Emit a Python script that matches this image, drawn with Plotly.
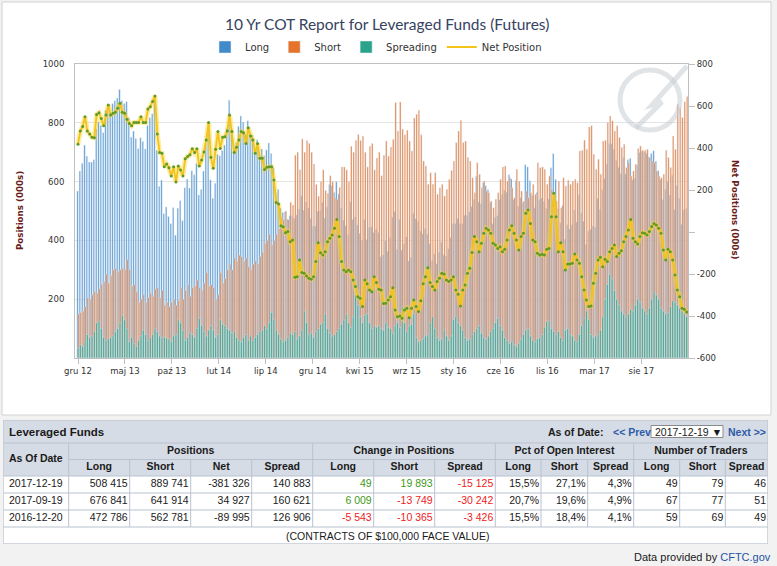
import pandas as pd
import plotly.graph_objects as go

W, H = 777, 566

# ------------ weekly COT data (000s), Dec 2012 - Dec 2017 ------------
weeks = pd.date_range('2012-12-18', periods=262, freq='7D')

long_pos = [568, 636, 662, 724, 686, 667, 666, 674, 780, 803,
            791, 766, 842, 860, 837, 865, 875, 884, 913, 875,
            865, 872, 817, 751, 772, 747, 712, 749, 736, 711,
            791, 817, 831, 883, 707, 583, 605, 491, 514, 481,
            457, 511, 418, 509, 535, 467, 579, 609, 578, 637,
            623, 662, 554, 573, 636, 728, 766, 606, 543, 594,
            693, 688, 706, 724, 781, 877, 778, 718, 733, 788,
            823, 803, 762, 807, 757, 758, 705, 742, 696, 711,
            688, 708, 731, 696, 648, 560, 573, 510, 495, 497,
            472, 484, 482, 474, 487, 507, 552, 503, 531, 510,
            475, 447, 449, 499, 501, 530, 476, 514, 590, 586,
            563, 600, 558, 509, 469, 451, 419, 531, 471, 480,
            452, 424, 400, 471, 403, 444, 446, 427, 439, 427,
            344, 350, 399, 363, 410, 479, 498, 369, 471, 367,
            388, 412, 330, 341, 492, 474, 464, 432, 423, 440,
            421, 389, 331, 354, 321, 359, 394, 351, 346, 372,
            410, 457, 457, 475, 457, 457, 486, 485, 497, 515,
            540, 618, 531, 525, 596, 586, 572, 528, 457, 478,
            484, 538, 556, 571, 564, 623, 609, 539, 604, 516,
            546, 528, 657, 650, 603, 553, 511, 563, 538, 544,
            533, 509, 541, 647, 695, 607, 508, 460, 519, 404,
            453, 439, 453, 503, 463, 555, 494, 465, 386, 431,
            438, 449, 445, 543, 505, 573, 611, 660, 729, 729,
            710, 673, 649, 627, 681, 626, 674, 679, 606, 613,
            656, 699, 704, 701, 696, 684, 696, 705, 669, 637,
            607, 539, 574, 600, 554, 622, 505, 587, 544, 455,
            504, 508.4]

short_pos = [150, 155, 160, 175, 205, 200, 215, 225, 220, 235,
             250, 260, 285, 255, 280, 300, 305, 295, 300, 305,
             300, 335, 300, 245, 250, 225, 190, 200, 215, 190,
             205, 220, 210, 235, 240, 205, 230, 180, 190, 175,
             190, 200, 180, 195, 240, 200, 230, 250, 210, 240,
             245, 265, 240, 230, 255, 290, 245, 250, 240, 200,
             215, 290, 255, 270, 300, 320, 300, 340, 330, 350,
             345, 330, 340, 310, 300, 320, 330, 320, 345, 360,
             390, 400, 420, 385, 400, 420, 440, 480, 470, 500,
             470, 530, 520, 690, 700, 640, 745, 700, 740, 730,
             700, 660, 590, 550, 600, 640, 570, 560, 620, 600,
             545, 540, 580, 650, 650, 640, 600, 720, 700, 740,
             760, 740, 755, 700, 650, 720, 730, 640, 680, 700,
             620, 690, 738, 687, 718, 744, 869, 772, 871, 778,
             759, 775, 738, 704, 816, 829, 843, 759, 670, 653,
             591, 630, 591, 630, 557, 579, 591, 551, 574, 608,
             638, 670, 733, 772, 809, 733, 738, 682, 670, 613,
             562, 664, 625, 579, 602, 568, 562, 534, 511, 540,
             562, 608, 650, 653, 602, 613, 579, 545, 642, 602,
             568, 534, 568, 545, 562, 591, 557, 664, 647, 650,
             642, 591, 619, 574, 511, 534, 602, 511, 613, 585,
             605, 591, 602, 608, 596, 704, 707, 741, 710, 786,
             790, 693, 642, 676, 625, 738, 741, 801, 823, 807,
             772, 790, 750, 716, 727, 648, 664, 619, 636, 659,
             713, 721, 707, 707, 710, 682, 670, 664, 636, 619,
             613, 625, 707, 682, 648, 755, 710, 863, 852, 818,
             872, 889.7]

spread_pos = [35, 45, 40, 55, 80, 70, 75, 90, 120, 125,
              100, 70, 60, 65, 70, 75, 90, 100, 120, 145,
              130, 100, 55, 70, 50, 40, 60, 75, 95, 80,
              60, 70, 80, 100, 90, 75, 70, 72, 68, 65,
              55, 75, 80, 130, 120, 95, 60, 70, 85, 80,
              70, 100, 135, 110, 90, 75, 95, 110, 95, 70,
              80, 130, 115, 110, 100, 95, 85, 90, 70, 60,
              55, 70, 80, 60, 75, 60, 70, 80, 90, 95,
              110, 100, 120, 155, 130, 95, 80, 65, 55, 60,
              70, 85, 80, 90, 65, 75, 95, 160, 120, 80,
              85, 70, 90, 100, 115, 120, 150, 100, 85, 75,
              80, 90, 100, 115, 130, 150, 120, 105, 140, 215,
              180, 140, 120, 145, 150, 120, 100, 110, 105, 110,
              100, 95, 120, 105, 100, 85, 110, 120, 105, 175,
              120, 90, 110, 115, 150, 70, 55, 60, 65, 75,
              80, 120, 140, 100, 70, 60, 65, 95, 75, 60,
              75, 130, 140, 120, 110, 95, 70, 60, 65, 80,
              90, 100, 110, 85, 70, 65, 75, 90, 100, 120,
              135, 110, 95, 70, 60, 50, 55, 45, 40, 50,
              65, 80, 95, 100, 75, 60, 55, 65, 70, 80,
              105, 125, 125, 100, 90, 80, 90, 70, 60, 95,
              100, 80, 75, 60, 55, 80, 110, 135, 160, 130,
              80, 70, 75, 80, 95, 140, 200, 250, 285, 270,
              230, 200, 180, 160, 150, 140, 150, 165, 160, 180,
              200, 190, 170, 160, 150, 170, 200, 225, 215, 200,
              170, 160, 150, 155, 175, 195, 190, 180, 170, 160,
              150, 140.9]

net_pos = [418, 481, 502, 549, 481, 467, 451, 449, 560, 568,
           541, 506, 557, 605, 557, 565, 570, 589, 613, 570,
           565, 537, 517, 506, 522, 522, 522, 549, 521, 521,
           586, 597, 621, 648, 467, 378, 375, 311, 324, 306,
           267, 311, 238, 314, 295, 267, 349, 359, 368, 397,
           378, 397, 314, 343, 381, 438, 521, 356, 303, 394,
           478, 398, 451, 454, 481, 557, 478, 378, 403, 438,
           478, 473, 422, 497, 457, 438, 375, 422, 351, 351,
           298, 308, 311, 311, 248, 140, 133, 30, 25, -3,
           2, -46, -38, -216, -213, -133, -193, -197, -209, -220,
           -225, -213, -141, -51, -99, -110, -94, -46, -30, -14,
           18, 60, -22, -141, -181, -189, -181, -189, -229, -260,
           -308, -316, -355, -229, -247, -276, -284, -213, -241, -273,
           -276, -340, -339, -324, -308, -265, -371, -403, -400, -411,
           -371, -363, -408, -363, -324, -355, -379, -327, -247, -213,
           -170, -241, -260, -276, -236, -220, -197, -200, -228, -236,
           -228, -213, -276, -297, -352, -276, -252, -197, -173, -98,
           -22, -46, -94, -54, -6, 18, 10, -6, -54, -62,
           -78, -70, -94, -82, -38, 10, 30, -6, -38, -86,
           -22, -6, 89, 105, 41, -38, -46, -101, -109, -106,
           -109, -82, -78, 73, 184, 73, -94, -51, -94, -181,
           -152, -152, -149, -105, -133, -149, -213, -276, -324, -355,
           -352, -244, -197, -133, -120, -165, -130, -141, -94, -78,
           -62, -117, -101, -89, -46, -22, 10, 60, -30, -46,
           -57, -22, -3, -6, -14, 2, 26, 41, 33, 18,
           -6, -86, -133, -82, -94, -133, -205, -276, -308, -363,
           -368, -381.3]

tick_labels = ['gru 12', 'maj 13', 'paź 13', 'lut 14', 'lip 14', 'gru 14', 'kwi 15',
               'wrz 15', 'sty 16', 'cze 16', 'lis 16', 'mar 17', 'sie 17']

# ------------ table data ------------
tbl_dates = ['2017-12-19', '2017-09-19', '2016-12-20']
tbl_long = ['508 415', '676 841', '472 786']
tbl_short = ['889 741', '641 914', '562 781']
tbl_net = ['-381 326', '34 927', '-89 995']
tbl_spread = ['140 883', '160 621', '126 906']
chg_long = ['49', '6 009', '-5 543']
chg_short = ['19 893', '-13 749', '-10 365']
chg_spread = ['-15 125', '-30 242', '-3 426']
pct_long = ['15,5%', '20,7%', '15,5%']
pct_short = ['27,1%', '19,6%', '18,4%']
pct_spread = ['4,3%', '4,9%', '4,1%']
trd_long = ['49', '67', '59']
trd_short = ['79', '77', '69']
trd_spread = ['46', '51', '49']

group_titles = ['Positions', 'Change in Positions', 'Pct of Open Interest', 'Number of Traders']
sub_titles = ['Long', 'Short', 'Net', 'Spread', 'Long', 'Short', 'Spread',
              'Long', 'Short', 'Spread', 'Long', 'Short', 'Spread']


def px(x):
    return x / W


def py(y):
    return 1 - y / H


C_LONG, C_SHORT, C_SPREAD, C_NET = '#3282c6', '#e2600f', '#159a80', '#f2c41a'
HDR = '#d6dce5'
BRD = '#b9c2cf'
TXT = '#1a1a1a'
TFONT = 'Liberation Sans, Arial, sans-serif'
CFONT = 'DejaVu Sans, Verdana, sans-serif'
DAY = 86400000

fig = go.Figure()
# columns sit side by side within each week (long left, short right, spread on top)
fig.add_bar(x=weeks, y=long_pos, name='Long', marker_color=C_LONG, opacity=0.92,
            width=4.0 * DAY, offset=-3.4 * DAY)
fig.add_bar(x=weeks, y=short_pos, name='Short', marker_color=C_SHORT, opacity=0.88,
            width=4.0 * DAY, offset=-0.6 * DAY)
fig.add_bar(x=weeks, y=spread_pos, name='Spreading', marker_color=C_SPREAD, opacity=0.9,
            width=4.4 * DAY, offset=-2.2 * DAY)
# net position line (glow + line + dots)
fig.add_scatter(x=weeks, y=net_pos, yaxis='y2', mode='lines', showlegend=False,
                line=dict(color='rgba(250,214,60,0.45)', width=5), hoverinfo='skip')
fig.add_scatter(x=weeks, y=net_pos, yaxis='y2', mode='lines', name='Net Position',
                line=dict(color=C_NET, width=1.8))
fig.add_scatter(x=weeks, y=net_pos, yaxis='y2', mode='markers', showlegend=False,
                marker=dict(color='#5f9a2a', size=3), hoverinfo='skip')

tick_dates = [weeks[0] + pd.Timedelta(weeks=20.13 * k) for k in range(len(tick_labels))]

# ------------ table drawn on its own axes (1 unit = 1 px) ------------
col_edges = [0, 65.7, 126.7, 187.7, 248.7, 309.7, 370.7, 431.7, 492.3,
             538, 584.7, 630.7, 676.7, 722.3, 765]
grp_edges = [0, 65.7, 309.7, 492.3, 630.7, 765]
row_edges = [0, 23, 39.5, 56, 73, 90, 107, 124]

cols = [tbl_dates, tbl_long, tbl_short, tbl_net, tbl_spread, chg_long, chg_short,
        chg_spread, pct_long, pct_short, pct_spread, trd_long, trd_short, trd_spread]

# header labels
hx, hy, ht = [], [], []
for g, name in enumerate(group_titles):
    hx.append((grp_edges[g + 1] + grp_edges[g + 2]) / 2)
    hy.append((row_edges[1] + row_edges[2]) / 2)
    ht.append('<b>%s</b>' % name)
for j, name in enumerate(sub_titles):
    hx.append((col_edges[j + 1] + col_edges[j + 2]) / 2)
    hy.append((row_edges[2] + row_edges[3]) / 2)
    ht.append('<b>%s</b>' % name)
hx.append(col_edges[1] / 2)
hy.append(row_edges[2])
ht.append('<b>As Of Date</b>')
fig.add_scatter(x=hx, y=hy, text=ht, mode='text', xaxis='x3', yaxis='y3',
                textfont=dict(family=TFONT, size=10.5, color=TXT), showlegend=False,
                hoverinfo='skip', cliponaxis=False)

# body cells
cx, cy, ctext, ccol, cpos = [], [], [], [], []
for j, col in enumerate(cols):
    for r, v in enumerate(col):
        ymid = (row_edges[3 + r] + row_edges[4 + r]) / 2
        if j == 0:
            cx.append((col_edges[0] + col_edges[1]) / 2)
            cpos.append('middle center')
        else:
            cx.append(col_edges[j + 1] - 2)
            cpos.append('middle left')
        cy.append(ymid)
        ctext.append(v)
        if j in (5, 6, 7):
            ccol.append('#ee1c1c' if v.startswith('-') else '#3f9a18')
        else:
            ccol.append(TXT)
fig.add_scatter(x=cx, y=cy, text=ctext, mode='text', textposition=cpos,
                xaxis='x3', yaxis='y3', textfont=dict(family=TFONT, size=10.5, color=ccol),
                showlegend=False, hoverinfo='skip', cliponaxis=False)

# ------------ shapes ------------
shapes = [
    dict(type='rect', xref='paper', yref='paper', x0=px(2), x1=px(771), y0=py(415), y1=py(2),
         fillcolor='white', line=dict(color='#d2d2d2', width=1), layer='below'),
    # watermark
    dict(type='circle', xref='paper', yref='paper', x0=px(620), x1=px(680), y0=py(130), y1=py(70),
         line=dict(color='rgba(200,205,212,0.55)', width=5)),
    dict(type='path', xref='paper', yref='paper',
         path='M %f %f L %f %f L %f %f L %f %f' % (px(687), py(66), px(652), py(105),
                                                   px(662), py(102), px(636), py(128)),
         line=dict(color='rgba(200,205,212,0.55)', width=5)),
]


def tshape(**kw):
    d = dict(xref='x3', yref='y3', layer='below')
    d.update(kw)
    return d


# header fill, dropdown box, borders
shapes.append(tshape(type='rect', x0=0, x1=765, y0=0, y1=row_edges[3], fillcolor=HDR,
                     line=dict(width=0)))
shapes.append(tshape(type='rect', x0=648, x1=720, y0=5.5, y1=17.5, fillcolor='white',
                     line=dict(color='#8a8a8a', width=1), layer='above'))
for yv in [row_edges[1], row_edges[3], row_edges[4], row_edges[5], row_edges[6]]:
    shapes.append(tshape(type='line', x0=0, x1=765, y0=yv, y1=yv,
                         line=dict(color=BRD, width=1), layer='above'))
shapes.append(tshape(type='line', x0=col_edges[1], x1=765, y0=row_edges[2], y1=row_edges[2],
                     line=dict(color=BRD, width=1), layer='above'))
for xv in grp_edges[1:-1]:
    shapes.append(tshape(type='line', x0=xv, x1=xv, y0=row_edges[1], y1=row_edges[6],
                         line=dict(color=BRD, width=1), layer='above'))
for xv in col_edges[1:-1]:
    if xv not in grp_edges:
        shapes.append(tshape(type='line', x0=xv, x1=xv, y0=row_edges[2], y1=row_edges[6],
                             line=dict(color=BRD, width=1), layer='above'))
shapes.append(tshape(type='rect', x0=0, x1=765, y0=0, y1=row_edges[7],
                     line=dict(color='#c4cad3', width=1.5), layer='above'))

annotations = [
    dict(text='10 Yr COT Report for Leveraged Funds (Futures)', x=px(387), y=py(24),
         font=dict(family='Lato, Open Sans, sans-serif', size=15.5, color='#36425f')),
    dict(text='<b>Positions (000s)</b>', x=px(20), y=py(211), textangle=-90,
         font=dict(family=CFONT, size=8.7, color='#6b1c1c')),
    dict(text='<b>Net Positions (000s)</b>', x=px(735), y=py(210), textangle=90,
         font=dict(family=CFONT, size=8.7, color='#6b1c1c')),
    dict(text='Data provided by <span style="color:#2452a4">CFTC.gov</span>',
         x=px(773), y=py(557), xanchor='right',
         font=dict(family=TFONT, size=11, color=TXT)),
]
for a in annotations:
    a.setdefault('xanchor', 'center')
    a.update(xref='paper', yref='paper', showarrow=False, yanchor='middle')

tbl_notes = [
    dict(text='<b>Leveraged Funds</b>', x=4, y=11.5, xanchor='left',
         font=dict(family=TFONT, size=11.5, color=TXT)),
    dict(text='<b>As of Date:</b>', x=602, y=11.5, xanchor='right',
         font=dict(family=TFONT, size=10.5, color=TXT)),
    dict(text='<b>&lt;&lt; Prev</b>', x=608, y=11.5, xanchor='left',
         font=dict(family=TFONT, size=10.5, color='#2c5ba8')),
    dict(text='2017-12-19 ▼', x=650, y=11.5, xanchor='left',
         font=dict(family=TFONT, size=10.5, color=TXT)),
    dict(text='<b>Next &gt;&gt;</b>', x=723, y=11.5, xanchor='left',
         font=dict(family=TFONT, size=10.5, color='#2c5ba8')),
    dict(text='(CONTRACTS OF $100,000 FACE VALUE)', x=384, y=115.5, xanchor='center',
         font=dict(family=TFONT, size=10.5, color=TXT)),
]
for a in tbl_notes:
    a.update(xref='x3', yref='y3', showarrow=False, yanchor='middle')

fig.update_layout(
    width=W, height=H, margin=dict(l=0, r=0, t=0, b=0, autoexpand=False),
    paper_bgcolor='#f2f2f2', plot_bgcolor='white',
    font=dict(family=CFONT, size=8.5, color='#333333'),
    barmode='overlay',
    showlegend=True,
    legend=dict(orientation='h', x=px(376), xanchor='center', y=py(47), yanchor='middle',
                font=dict(family=CFONT, size=10, color='#333333'),
                bgcolor='rgba(0,0,0,0)', itemwidth=30),
    xaxis=dict(domain=[px(75), px(688)], type='date',
               range=[weeks[0] - pd.Timedelta(days=9), weeks[-1] + pd.Timedelta(days=4)],
               tickvals=tick_dates, ticktext=tick_labels, ticks='outside', ticklen=5,
               tickcolor='#c0c0c0', showgrid=False, showline=True, linecolor='#c0c0c0',
               mirror=True, tickfont=dict(size=8.5, color='#333333')),
    yaxis=dict(domain=[py(358), py(64)], range=[0, 1000],
               tickvals=[0, 200, 400, 600, 800, 1000],
               ticktext=['', '200', '400', '600', '800', '1000'],
               gridcolor='#e4e4e4', showline=True, linecolor='#c0c0c0', mirror=True,
               zeroline=False, ticks='', ticklabelstandoff=8,
               tickfont=dict(size=8.5, color='#333333')),
    yaxis2=dict(overlaying='y', side='right', range=[-600, 800],
                tickvals=[-600, -400, -200, 0, 200, 400, 600, 800],
                ticktext=['-600', '-400', '-200', '', '200', '400', '600', '800'],
                showgrid=False, zeroline=False, ticks='outside', ticklen=6,
                tickcolor='#c0c0c0', tickfont=dict(size=8.5, color='#333333')),
    xaxis3=dict(domain=[px(3), px(768)], range=[0, 765], anchor='y3', visible=False,
                fixedrange=True),
    yaxis3=dict(domain=[py(544), py(420)], range=[124, 0], anchor='x3', visible=False,
                fixedrange=True),
    shapes=shapes,
    annotations=annotations + tbl_notes,
)

# the page body has a default 8px margin; drop it so the figure fills the window
fig.write_html('out.html', config={'displayModeBar': False},
               post_script="document.body.style.margin='0';")
